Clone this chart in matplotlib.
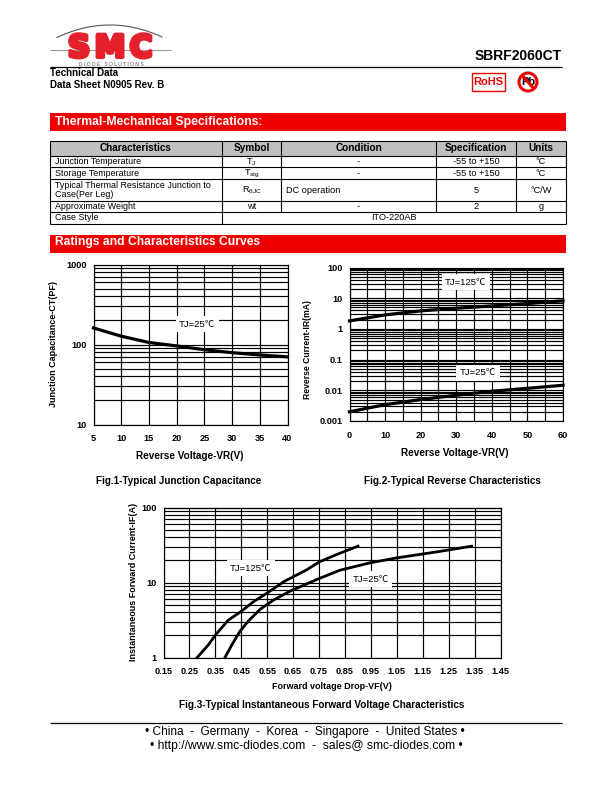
# SBRF2060CT data sheet page, with the three curve figures
import matplotlib
matplotlib.use('Agg')
import matplotlib.pyplot as plt
import matplotlib.patheffects as pe
from matplotlib.patches import Rectangle, Circle
from matplotlib.ticker import LogLocator, FixedLocator, FixedFormatter
import numpy as np

plt.rcParams['font.family'] = ['Liberation Sans', 'Noto Sans CJK SC', 'DejaVu Sans']
plt.rcParams['mathtext.default'] = 'regular'

# Fig.1
f1_vr = [5, 10, 15, 20, 25, 30, 35, 40]
f1_ct = [161, 127, 106, 96, 86, 79, 74, 70]
f1_xticks = [5, 10, 15, 20, 25, 30, 35, 40]

# Fig.2
f2_vr = [0, 10, 20, 30, 40, 50, 60]
f2_ir_125 = [1.82, 2.86, 3.86, 4.7, 5.6, 6.7, 8.2]
f2_ir_25 = [0.002, 0.0034, 0.005, 0.0069, 0.0093, 0.0116, 0.0146]
f2_xticks = [0, 10, 20, 30, 40, 50, 60]
f2_xgrid = [0, 5, 10, 15, 20, 25, 30, 35, 40, 45, 50, 55, 60]

# Fig.3
f3_vf_125 = [0.28, 0.322, 0.355, 0.40, 0.447, 0.50, 0.547, 0.617, 0.70, 0.752, 0.818, 0.90]
f3_if_125 = [1, 1.46, 2.09, 3.15, 4.06, 5.64, 7.13, 10.4, 14.6, 18.9, 23.6, 30.5]
f3_vf_25 = [0.387, 0.413, 0.445, 0.477, 0.522, 0.573, 0.638, 0.741, 0.831, 0.947, 1.05, 1.204, 1.339]
f3_if_25 = [1, 1.46, 2.24, 3.05, 4.37, 5.8, 7.66, 10.96, 14.6, 18.3, 21.3, 25.6, 30.5]
f3_xticks = [0.15, 0.25, 0.35, 0.45, 0.55, 0.65, 0.75, 0.85, 0.95, 1.05, 1.15, 1.25, 1.35, 1.45]

# Table
headers = ['Characteristics', 'Symbol', 'Condition', 'Specification', 'Units']
names = ['Junction Temperature', 'Storage Temperature',
         'Typical Thermal Resistance Junction to\nCase(Per Leg)', 'Approximate Weight', 'Case Style']
symbols = ['T$_{J}$', 'T$_{stg}$', 'R$_{\\theta JC}$', 'wt']
conditions = ['-', '-', 'DC operation', '-']
specs = ['-55 to +150', '-55 to +150', '5', '2']
units = ['°C', '°C', '°C/W', 'g']
case_style = 'ITO-220AB'

W, H = 612, 792
RED = '#ee0000'

fig = plt.figure(figsize=(W / 100, H / 100), dpi=100)
page = fig.add_axes([0, 0, 1, 1])
page.set_xlim(0, W)
page.set_ylim(H, 0)
page.axis('off')


def line(x0, y0, x1, y1, lw=0.8, c='black', z=2):
    page.plot([x0, x1], [y0, y1], color=c, lw=lw, solid_capstyle='butt', zorder=z)


# header
page.text(562, 56, 'SBRF2060CT', fontsize=10, fontweight='bold', ha='right', va='center')
line(50, 66.5, 562, 66.5, lw=0.9)
page.text(50.5, 72.5, 'Technical Data', fontsize=7, fontweight='bold', va='center')
page.text(50.5, 84.5, 'Data Sheet N0905 Rev. B', fontsize=7, fontweight='bold', va='center')

# logo
line(50, 50, 171, 50, lw=0.8, c='#999999')
arc_x = np.linspace(57, 162, 40)
page.plot(arc_x, 25 + 12 * ((arc_x - 110) / 52) ** 2, color='#555555', lw=0.8)
for letter, lx in zip('SMC', [79, 110, 141]):
    page.text(lx, 48.5, letter, fontsize=22, fontweight='bold', color='#e3202c', ha='center', va='center',
              family=['DejaVu Sans'], path_effects=[pe.withStroke(linewidth=3, foreground='#e3202c')])
page.text(111, 64.3, 'D I O D E   S O L U T I O N S', fontsize=3.6, color='#555555', ha='center', va='center')

# RoHS and no-lead marks
page.add_patch(Rectangle((472, 73), 33, 18, fc='white', ec=RED, lw=1))
page.text(488.5, 82, 'RoHS', fontsize=8, fontweight='bold', color=RED, ha='center', va='center')
page.add_patch(Circle((528, 82), 9, fc='white', ec=RED, lw=2.2, zorder=3))
page.text(528, 82, 'Pb', fontsize=8, fontweight='bold', ha='center', va='center', zorder=4)
line(522, 75, 534, 89, lw=2.2, c=RED, z=5)

# red bands
page.add_patch(Rectangle((50, 113), 516, 17.5, fc=RED, ec='none'))
page.text(55, 122, 'Thermal-Mechanical Specifications:', fontsize=8.7, fontweight='bold', color='white', va='center')
page.add_patch(Rectangle((50, 235), 516, 17.5, fc=RED, ec='none'))
page.text(55, 242.5, 'Ratings and Characteristics Curves', fontsize=8.7, fontweight='bold', color='white', va='center')

# table
col_x = [50, 222, 281, 436, 516, 566]
row_y = [141, 155.5, 167, 179, 200.5, 212, 223.5]
page.add_patch(Rectangle((col_x[0], row_y[0]), col_x[-1] - col_x[0], row_y[1] - row_y[0], fc='#c0c0c0', ec='none'))
for i, h in enumerate(headers):
    page.text((col_x[i] + col_x[i + 1]) / 2, 148, h, fontsize=7.2, fontweight='bold', ha='center', va='center')
for y in row_y:
    line(col_x[0], y, col_x[-1], y)
line(col_x[0], row_y[0], col_x[0], row_y[-1])
line(col_x[-1], row_y[0], col_x[-1], row_y[-1])
line(col_x[1], row_y[0], col_x[1], row_y[-1])
for x in col_x[2:5]:
    line(x, row_y[0], x, row_y[-2])
for i in range(4):
    yc = (row_y[i + 1] + row_y[i + 2]) / 2
    page.text(55, yc + 0.5, names[i], fontsize=6.4, va='center', linespacing=0.95)
    page.text((col_x[1] + col_x[2]) / 2, yc + 0.5, symbols[i], fontsize=6.6, ha='center', va='center')
    if conditions[i] == '-':
        page.text((col_x[2] + col_x[3]) / 2, yc + 0.5, '-', fontsize=6.6, ha='center', va='center')
    else:
        page.text(col_x[2] + 5, yc + 0.5, conditions[i], fontsize=6.6, va='center')
    page.text((col_x[3] + col_x[4]) / 2, yc + 0.5, specs[i], fontsize=6.6, ha='center', va='center')
    page.text((col_x[4] + col_x[5]) / 2, yc + 0.5, units[i], fontsize=6.6, ha='center', va='center')
page.text(55, 217.5, names[4], fontsize=6.4, va='center')
page.text((col_x[1] + col_x[5]) / 2, 217.5, case_style, fontsize=6.6, ha='center', va='center')


def make_axes(left, right, top, bottom, xlim, ylim, xticks, xgrid, ylabels):
    ax = fig.add_axes([left / W, 1 - bottom / H, (right - left) / W, (bottom - top) / H])
    ax.set_xlim(xlim)
    ax.set_yscale('log')
    ax.set_ylim(ylim)
    ax.set_xticks(xgrid)
    ax.set_xticklabels([str(v) if v in xticks else '' for v in xgrid])
    ax.yaxis.set_major_locator(FixedLocator([ylim[0] * 10 ** i for i in range(len(ylabels))]))
    ax.yaxis.set_major_formatter(FixedFormatter(ylabels))
    ax.yaxis.set_minor_locator(LogLocator(base=10, subs=range(2, 10), numticks=20))
    ax.yaxis.set_minor_formatter(plt.NullFormatter())
    ax.grid(True, which='both', color='black', lw=0.85)
    ax.set_axisbelow(True)
    ax.tick_params(which='both', length=0)
    ax.tick_params(axis='x', pad=7, labelsize=6.6)
    ax.tick_params(axis='y', pad=5, labelsize=6.6)
    for lab in ax.get_xticklabels() + ax.get_yticklabels():
        lab.set_fontweight('bold')
    for s in ax.spines.values():
        s.set_linewidth(0.85)
    return ax


def tag(ax, x, y, s):
    ax.text(x, y, s, fontsize=6.8, ha='center', va='center', zorder=4,
            bbox=dict(fc='white', ec='none', pad=2.5))


# Fig.1
ax1 = make_axes(93.5, 287.5, 264.5, 424.5, (5, 40), (10, 1000), f1_xticks, f1_xticks, ['10', '100', '1000'])
ax1.plot(f1_vr, f1_ct, color='black', lw=2.3, zorder=3, clip_on=False)
tag(ax1, 23.7, 180, 'TJ=25℃')
page.text(190, 456, 'Reverse Voltage-VR(V)', fontsize=7.2, fontweight='bold', ha='center', va='center')
page.text(53, 344, 'Junction Capacitance-CT(PF)', fontsize=6.5, fontweight='bold', rotation=90, ha='center', va='center')
page.text(178.5, 480.5, 'Fig.1-Typical Junction Capacitance', fontsize=7.1, fontweight='bold', ha='center', va='center')

# Fig.2
ax2 = make_axes(349.5, 563, 267.5, 421, (0, 60), (0.001, 100), f2_xticks, f2_xgrid, ['0.001', '0.01', '0.1', '1', '10', '100'])
ax2.plot(f2_vr, f2_ir_125, color='black', lw=2.3, zorder=3, clip_on=False)
ax2.plot(f2_vr, f2_ir_25, color='black', lw=2.3, zorder=3, clip_on=False)
tag(ax2, 32.7, 33, 'TJ=125℃')
tag(ax2, 36.1, 0.037, 'TJ=25℃')
page.text(455, 452.5, 'Reverse Voltage-VR(V)', fontsize=7.2, fontweight='bold', ha='center', va='center')
page.text(307, 350, 'Reverse Current-IR(mA)', fontsize=6.2, fontweight='bold', rotation=90, ha='center', va='center')
page.text(452, 481.5, 'Fig.2-Typical Reverse Characteristics', fontsize=7.2, fontweight='bold', ha='center', va='center')

# Fig.3
ax3 = make_axes(163.5, 500.5, 507.5, 657.5, (0.15, 1.45), (1, 100), f3_xticks, f3_xticks, ['1', '10', '100'])
ax3.plot(f3_vf_125, f3_if_125, color='black', lw=2.0, zorder=3, clip_on=False)
ax3.plot(f3_vf_25, f3_if_25, color='black', lw=2.0, zorder=3, clip_on=False)
tag(ax3, 0.4875, 15.5, 'TJ=125℃')
tag(ax3, 0.949, 11.1, 'TJ=25℃')
page.text(332, 686.5, 'Forward voltage Drop-VF(V)', fontsize=6.5, fontweight='bold', ha='center', va='center')
page.text(134, 582, 'Instantaneous Forward Current-IF(A)', fontsize=6.5, fontweight='bold', rotation=90, ha='center', va='center')
page.text(321.5, 705.5, 'Fig.3-Typical Instantaneous Forward Voltage Characteristics', fontsize=7.2, fontweight='bold', ha='center', va='center')

# footer
line(50, 723, 562, 723, lw=0.9)
page.text(305, 731.5, '• China  -  Germany  -  Korea  -  Singapore  -  United States •', fontsize=8.6, ha='center', va='center')
page.text(306, 746.5, '• http://www.smc-diodes.com  -  sales@ smc-diodes.com •', fontsize=8.7, ha='center', va='center')

fig.savefig('out.png', dpi=100)
